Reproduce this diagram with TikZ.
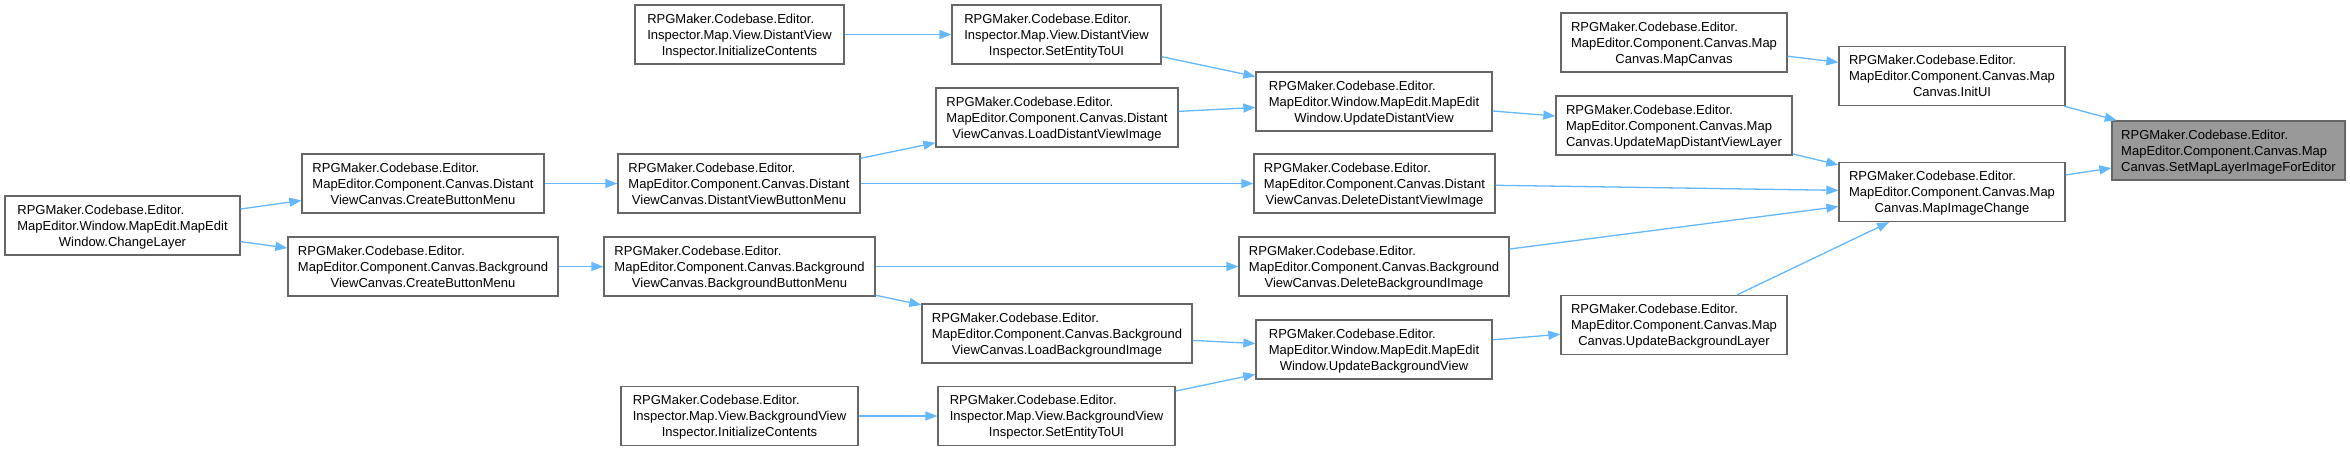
\documentclass[tikz,border=0pt]{standalone}
\usepackage{fontspec}
\setmainfont{Liberation Sans}
\usetikzlibrary{arrows.meta}
\definecolor{edgec}{HTML}{63B8FF}
\definecolor{bordc}{HTML}{666666}
\definecolor{mainfill}{HTML}{999999}
\newcommand{\doxlbl}[3]{\raisebox{-1.3pt}[\height][\depth]{\begin{tabular}{@{}l@{}}#1\\#2\\\multicolumn{1}{@{}c@{}}{#3}\end{tabular}}}
\begin{document}
\begin{tikzpicture}[x=1pt,y=-1pt,
  box/.style={draw=bordc, fill=white, line width=1.3pt, rectangle, inner sep=0pt,
    minimum height=59pt, font=\fontsize{13}{16}\selectfont},
  mainbox/.style={box, fill=mainfill},
  edge/.style={draw=edgec, line width=1.3pt, -{Triangle[length=12pt,width=9pt]}}]
\useasboundingbox (0,0) rectangle (2350,451);
\fill[white] (0,0) rectangle (2350,451);

\node[box, minimum width=235pt] (CL) at (122.5,225.5) {\doxlbl{RPGMaker.Codebase.Editor.}{MapEditor.Window.MapEdit.MapEdit}{Window.ChangeLayer}};
\node[box, minimum width=242pt] (DVCB) at (423,183.5) {\doxlbl{RPGMaker.Codebase.Editor.}{MapEditor.Component.Canvas.Distant}{ViewCanvas.CreateButtonMenu}};
\node[box, minimum width=270pt] (BGCB) at (423,266.5) {\doxlbl{RPGMaker.Codebase.Editor.}{MapEditor.Component.Canvas.Background}{ViewCanvas.CreateButtonMenu}};
\node[box, minimum width=209pt] (DVIIC) at (739.5,34.5) {\doxlbl{RPGMaker.Codebase.Editor.}{Inspector.Map.View.DistantView}{Inspector.InitializeContents}};
\node[box, minimum width=209pt] (DVIS) at (1056.5,34.5) {\doxlbl{RPGMaker.Codebase.Editor.}{Inspector.Map.View.DistantView}{Inspector.SetEntityToUI}};
\node[box, minimum width=242pt] (LDVI) at (1057,117.5) {\doxlbl{RPGMaker.Codebase.Editor.}{MapEditor.Component.Canvas.Distant}{ViewCanvas.LoadDistantViewImage}};
\node[box, minimum width=242pt] (DVBM) at (739,183.5) {\doxlbl{RPGMaker.Codebase.Editor.}{MapEditor.Component.Canvas.Distant}{ViewCanvas.DistantViewButtonMenu}};
\node[box, minimum width=271pt] (BGBM) at (739.5,266.5) {\doxlbl{RPGMaker.Codebase.Editor.}{MapEditor.Component.Canvas.Background}{ViewCanvas.BackgroundButtonMenu}};
\node[box, minimum width=270pt] (LBGI) at (1057,333.5) {\doxlbl{RPGMaker.Codebase.Editor.}{MapEditor.Component.Canvas.Background}{ViewCanvas.LoadBackgroundImage}};
\node[box, minimum width=237pt] (BGIIC) at (739.5,416) {\doxlbl{RPGMaker.Codebase.Editor.}{Inspector.Map.View.BackgroundView}{Inspector.InitializeContents}};
\node[box, minimum width=237pt] (BGIS) at (1056.5,416) {\doxlbl{RPGMaker.Codebase.Editor.}{Inspector.Map.View.BackgroundView}{Inspector.SetEntityToUI}};
\node[box, minimum width=226pt] (MCMC) at (1674,42.5) {\doxlbl{RPGMaker.Codebase.Editor.}{MapEditor.Component.Canvas.Map}{Canvas.MapCanvas}};
\node[box, minimum width=236pt] (UDV) at (1374,101.5) {\doxlbl{RPGMaker.Codebase.Editor.}{MapEditor.Window.MapEdit.MapEdit}{Window.UpdateDistantView}};
\node[box, minimum width=236pt] (UMDVL) at (1674,125.5) {\doxlbl{RPGMaker.Codebase.Editor.}{MapEditor.Component.Canvas.Map}{Canvas.UpdateMapDistantViewLayer}};
\node[box, minimum width=241pt] (DDVI) at (1374.5,183.5) {\doxlbl{RPGMaker.Codebase.Editor.}{MapEditor.Component.Canvas.Distant}{ViewCanvas.DeleteDistantViewImage}};
\node[box, minimum width=270pt] (DBGI) at (1374,266.5) {\doxlbl{RPGMaker.Codebase.Editor.}{MapEditor.Component.Canvas.Background}{ViewCanvas.DeleteBackgroundImage}};
\node[box, minimum width=226pt] (UBGL) at (1674,325) {\doxlbl{RPGMaker.Codebase.Editor.}{MapEditor.Component.Canvas.Map}{Canvas.UpdateBackgroundLayer}};
\node[box, minimum width=236pt] (UBGV) at (1374,349.5) {\doxlbl{RPGMaker.Codebase.Editor.}{MapEditor.Window.MapEdit.MapEdit}{Window.UpdateBackgroundView}};
\node[box, minimum width=226pt] (INIT) at (1952,76) {\doxlbl{RPGMaker.Codebase.Editor.}{MapEditor.Component.Canvas.Map}{Canvas.InitUI}};
\node[mainbox, minimum width=233pt] (SML) at (2228.5,150.5) {\doxlbl{RPGMaker.Codebase.Editor.}{MapEditor.Component.Canvas.Map}{Canvas.SetMapLayerImageForEditor}};
\node[box, minimum width=226pt] (MIC) at (1952,192) {\doxlbl{RPGMaker.Codebase.Editor.}{MapEditor.Component.Canvas.Map}{Canvas.MapImageChange}};

\draw[edge] (CL) -- (DVCB);
\draw[edge] (CL) -- (BGCB);
\draw[edge] (DVCB) -- (DVBM);
\draw[edge] (BGCB) -- (BGBM);
\draw[edge] (DVIIC) -- (DVIS);
\draw[edge] (DVIS) -- (UDV);
\draw[edge] (DVBM) -- (LDVI);
\draw[edge] (DVBM) -- (DDVI);
\draw[edge] (LDVI) -- (UDV);
\draw[edge] (BGBM) -- (DBGI);
\draw[edge] (BGBM) -- (LBGI);
\draw[edge] (LBGI) -- (UBGV);
\draw[edge] (BGIIC) -- (BGIS);
\draw[edge] (BGIS) -- (UBGV);
\draw[edge] (UDV) -- (UMDVL);
\draw[edge] (DDVI) -- (MIC);
\draw[edge] (DBGI) -- (MIC);
\draw[edge] (UBGL) -- (MIC);
\draw[edge] (UBGV) -- (UBGL);
\draw[edge] (MCMC) -- (INIT);
\draw[edge] (UMDVL) -- (MIC);
\draw[edge] (INIT) -- (SML);
\draw[edge] (MIC) -- (SML);
\end{tikzpicture}
\end{document}
